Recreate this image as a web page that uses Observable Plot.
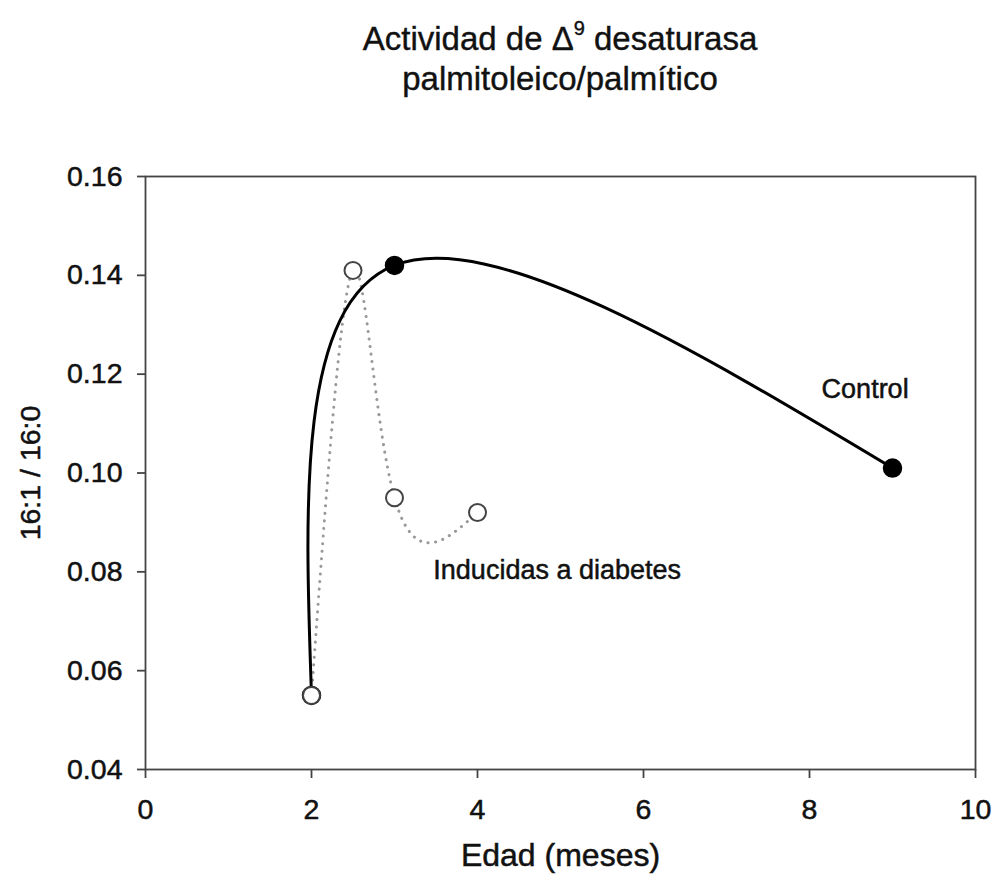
<!DOCTYPE html>
<html>
<head>
<meta charset="utf-8">
<script src="https://cdn.jsdelivr.net/npm/d3@7"></script>
<script src="https://cdn.jsdelivr.net/npm/@observablehq/plot@0.6"></script>
<style>
  html, body { margin: 0; padding: 0; background: #fff; }
  #chart { position: relative; width: 996px; height: 882px; font-family: "Liberation Sans", Arial, sans-serif; }
  #title { position: absolute; left: 145px; width: 830px; top: 21px; text-align: center; font-size: 33px; line-height: 36px; color: #111; -webkit-text-stroke: 0.4px #111; }
  #title sup { font-size: 20px; vertical-align: 0; position: relative; top: -15px; }
  #chart svg { position: absolute; left: 0; top: 0; }
  #chart svg text { stroke: #111; stroke-width: 0.5px; paint-order: stroke; }
</style>
</head>
<body>
<div id="chart">
  <div id="title">Actividad de Δ<sup>9</sup> desaturasa<br>palmitoleico/palmítico</div>
</div>
<script>
// Edad (meses) y cociente 16:1 / 16:0
const controlAge = [2, 3, 9];
const controlRatio = [0.055, 0.142, 0.101];
const diabetesAge = [2, 2.5, 3, 4];
const diabetesRatio = [0.055, 0.141, 0.095, 0.092];
const xTicks = [0, 2, 4, 6, 8, 10];
const yTicks = [0.04, 0.06, 0.08, 0.10, 0.12, 0.14, 0.16];

const control = controlAge.map((x, i) => ({x, y: controlRatio[i]}));
const diabetes = diabetesAge.map((x, i) => ({x, y: diabetesRatio[i]}));

const axisColor = "#444";

const chart = Plot.plot({
  width: 996,
  height: 882,
  marginLeft: 145,
  marginRight: 21,
  marginTop: 176,
  marginBottom: 113,
  style: {fontFamily: "Liberation Sans, Arial, sans-serif", color: "#111", background: "transparent"},
  x: {domain: [0, 10], ticks: xTicks},
  y: {domain: [0.04, 0.16], ticks: yTicks, tickFormat: d3.format(".2f")},
  marks: [
    Plot.frame({stroke: axisColor, strokeWidth: 1.8}),
    Plot.axisX({ticks: xTicks, tickSize: 9, tickPadding: 20, fontSize: 28.5, stroke: axisColor, strokeWidth: 1.8, label: null}),
    Plot.axisY({ticks: yTicks, tickSize: 8, tickPadding: 15, fontSize: 28.5, stroke: axisColor, strokeWidth: 1.8, tickFormat: d3.format(".2f"), label: null}),
    Plot.text(["Edad (meses)"], {frameAnchor: "bottom", dy: 96, fontSize: 32, fill: "#111"}),
    Plot.text(["16:1 / 16:0"], {frameAnchor: "left", textAnchor: "middle", dx: -115, rotate: -90, fontSize: 28.5, fill: "#111"}),
    // Inducidas a diabetes: spline natural punteada
    Plot.line(diabetes, {x: "x", y: "y", curve: "natural", stroke: "#999", strokeWidth: 3, strokeDasharray: "0.1 7.5", strokeLinecap: "round"}),
    // Control: spline natural continua
    Plot.line(control, {x: "x", y: "y", curve: "natural", stroke: "#000", strokeWidth: 3}),
    Plot.dot(control, {x: "x", y: "y", r: 9, fill: "#000", stroke: "#000"}),
    Plot.dot(diabetes, {x: "x", y: "y", r: 8.5, fill: "#fff", stroke: "#444", strokeWidth: 2}),
    Plot.text([{x: 8.67, y: 0.117, t: "Control"}], {x: "x", y: "y", text: "t", fontSize: 27, fill: "#111"}),
    Plot.text([{x: 4.96, y: 0.0803, t: "Inducidas a diabetes"}], {x: "x", y: "y", text: "t", fontSize: 27, fill: "#111"})
  ]
});
document.getElementById("chart").appendChild(chart);
</script>
</body>
</html>
